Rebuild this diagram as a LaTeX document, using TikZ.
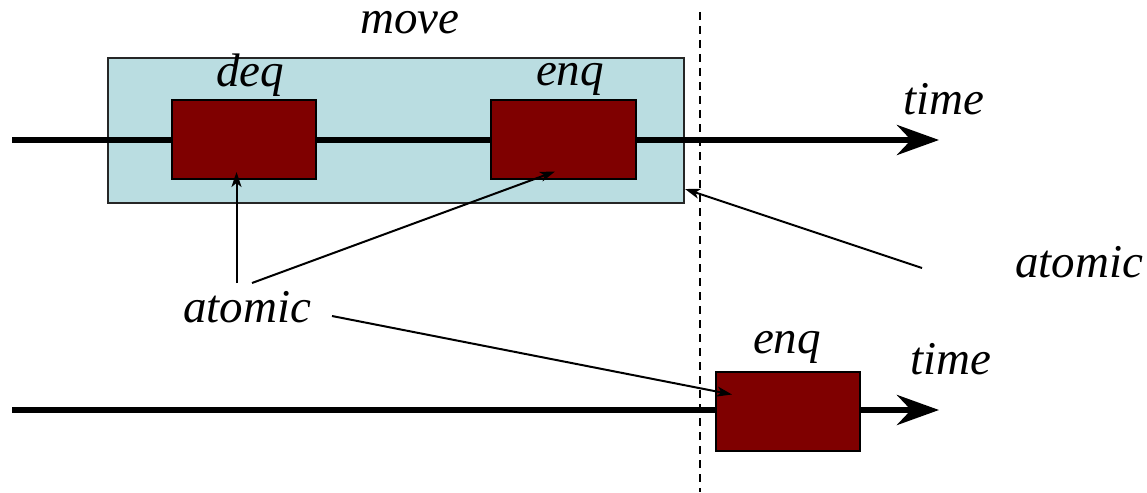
\documentclass[tikz,border=0pt]{standalone}
\usepackage{fontspec}
\setmainfont{Liberation Serif}
\usetikzlibrary{arrows.meta}
\definecolor{opblue}{HTML}{BADDE1}
\definecolor{opred}{HTML}{7F0000}
\begin{document}
\begin{tikzpicture}[x=1pt,y=-1pt,
  lbl/.style={inner sep=0pt,anchor=base,font=\fontsize{47}{50}\selectfont\itshape},
  opbox/.style={draw=black,line width=2pt,fill=opred,minimum width=144pt,minimum height=79pt,inner sep=0pt},
  movebox/.style={draw=black!85,line width=1.5pt,fill=opblue,minimum width=576pt,minimum height=145pt,inner sep=0pt},
  timeline/.style={line width=6pt,-{Stealth[length=42pt,width=30pt,inset=14pt]}},
  pointer/.style={line width=2pt,-{Stealth[length=15pt,width=10pt,inset=4pt]}},
  divider/.style={line width=2pt,dash pattern=on 8pt off 6pt}]
\useasboundingbox (0,0) rectangle (1147,492);

% the enclosing move operation
\node[movebox] (move) at (396,130.5) {};
\node[lbl,text height=23pt] (movelbl) at (410,34) {move};

% separator between the two threads
\coordinate (divtop) at (700,12);
\coordinate (divbot) at (700,492);
\draw[divider] (divtop) -- (divbot);

% timelines
\coordinate (t1s) at (12,140);
\coordinate (t1e) at (939,140);
\coordinate (t2s) at (12,410);
\coordinate (t2e) at (939,410);
\draw[timeline] (t1s) -- (t1e);
\draw[timeline] (t2s) -- (t2e);
\node[lbl] (time1) at (944,114) {time};
\node[lbl] (time2) at (951,374) {time};

% operations
\node[opbox] (deq) at (244,139.5) {};
\node[opbox,minimum width=145pt] (enqa) at (563.5,139.5) {};
\node[opbox] (enqb) at (788,411) {};
\node[lbl] (deqlbl) at (250,87) {deq};
\node[lbl] (enqalbl) at (570,86) {enq};
\node[lbl] (enqblbl) at (787,353) {enq};

% "atomic" annotations
\node[lbl] (atomL) at (247,322) {atomic};
\node[lbl] (atomR) at (1079,277) {atomic};

\coordinate (pa1) at (236.5,283);
\coordinate (pa2) at (252,283);
\coordinate (pa3) at (332,316);
\coordinate (pa4) at (922,268);
\coordinate (deqin) at (236.5,172);
\coordinate (enqain) at (555,171.5);
\coordinate (enqbin) at (732,394.5);
\coordinate (moveedge) at (685,189);

\draw[pointer] (pa1) -- (deqin);
\draw[pointer] (pa2) -- (enqain);
\draw[pointer] (pa3) -- (enqbin);
\draw[pointer] (pa4) -- (moveedge);
\end{tikzpicture}
\end{document}
